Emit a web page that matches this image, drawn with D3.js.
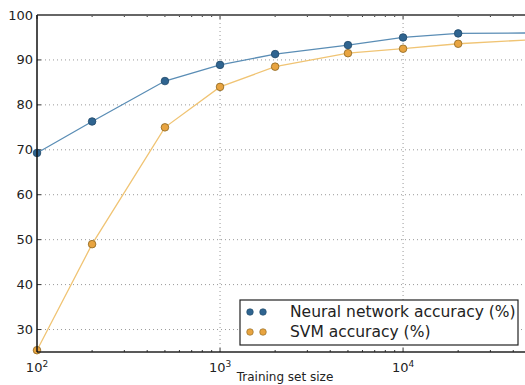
<!DOCTYPE html>
<html>
<head>
<meta charset="utf-8">
<script src="https://cdn.jsdelivr.net/npm/d3@7"></script>
<style>
  body { margin: 0; background: #fff; }
  svg { display: block; font-family: "DejaVu Sans", sans-serif; }
</style>
</head>
<body>
<div id="chart"></div>
<script>
// training set sizes and accuracies
const sizes = [100, 200, 500, 1000, 2000, 5000, 10000, 20000, 50000];
const nnAccuracy = [69.3, 76.3, 85.3, 88.9, 91.3, 93.3, 95.0, 95.9, 96.0];
const svmAccuracy = [25.4, 49.0, 75.0, 84.0, 88.5, 91.5, 92.5, 93.6, 94.5];
const yTicks = [30, 40, 50, 60, 70, 80, 90, 100];
const xMajor = [100, 1000, 10000];
const seriesNames = ["Neural network accuracy (%)", "SVM accuracy (%)"];

const width = 525, height = 385;
const margin = {top: 15, right: -6, bottom: 33, left: 37};

const svg = d3.select("#chart").append("svg")
    .attr("width", width)
    .attr("height", height);

const x = d3.scaleLog()
    .domain([100, 50000])
    .range([margin.left, width - margin.right]);

const y = d3.scaleLinear()
    .domain([25, 100])
    .range([height - margin.bottom, margin.top]);

const x0 = x.range()[0], x1 = x.range()[1];
const y0 = y.range()[0], y1 = y.range()[1];

// grid
const grid = svg.append("g")
    .attr("stroke", "#999")
    .attr("stroke-width", 1)
    .attr("stroke-dasharray", "1,3");
grid.selectAll(".gy")
    .data(yTicks.filter(d => d < 100))
    .enter().append("line")
    .attr("x1", x0).attr("x2", x1)
    .attr("y1", d => y(d)).attr("y2", d => y(d));
grid.selectAll(".gx")
    .data(xMajor.filter(d => d > 100))
    .enter().append("line")
    .attr("x1", d => x(d)).attr("x2", d => x(d))
    .attr("y1", y0).attr("y2", y1);

// minor x ticks (2..9 per decade)
let minor = [];
for (let dec = 100; dec < 50000; dec *= 10) {
    for (let m = 2; m <= 9; m++) {
        if (dec * m <= 50000) minor.push(dec * m);
    }
}

const ticks = svg.append("g").attr("stroke", "#333").attr("stroke-width", 1);
minor.forEach(v => {
    ticks.append("line").attr("x1", x(v)).attr("x2", x(v)).attr("y1", y0).attr("y2", y0 - 2);
    ticks.append("line").attr("x1", x(v)).attr("x2", x(v)).attr("y1", y1).attr("y2", y1 + 2);
});
xMajor.forEach(v => {
    ticks.append("line").attr("x1", x(v)).attr("x2", x(v)).attr("y1", y0).attr("y2", y0 - 4);
    ticks.append("line").attr("x1", x(v)).attr("x2", x(v)).attr("y1", y1).attr("y2", y1 + 4);
});
yTicks.forEach(v => {
    ticks.append("line").attr("x1", x0).attr("x2", x0 + 4).attr("y1", y(v)).attr("y2", y(v));
});

// lines
const line = d3.line()
    .x((d, i) => x(sizes[i]))
    .y(d => y(d));

svg.append("path")
    .datum(svmAccuracy)
    .attr("fill", "none")
    .attr("stroke", "#f0c474")
    .attr("stroke-width", 1.3)
    .attr("d", line);

svg.append("path")
    .datum(nnAccuracy)
    .attr("fill", "none")
    .attr("stroke", "#5a8db5")
    .attr("stroke-width", 1.3)
    .attr("d", line);

// markers
svg.selectAll(".svm")
    .data(svmAccuracy)
    .enter().append("circle")
    .attr("cx", (d, i) => x(sizes[i]))
    .attr("cy", d => y(d))
    .attr("r", 3.8)
    .attr("fill", "#e8a440")
    .attr("stroke", "#8a6420")
    .attr("stroke-width", 0.8);

svg.selectAll(".nn")
    .data(nnAccuracy)
    .enter().append("circle")
    .attr("cx", (d, i) => x(sizes[i]))
    .attr("cy", d => y(d))
    .attr("r", 3.8)
    .attr("fill", "#2f6490")
    .attr("stroke", "#1f4868")
    .attr("stroke-width", 0.8);

// spines
svg.append("line").attr("x1", x0).attr("x2", x1).attr("y1", y1).attr("y2", y1)
    .attr("stroke", "#666").attr("stroke-width", 2);
svg.append("line").attr("x1", x0).attr("x2", x1).attr("y1", y0).attr("y2", y0)
    .attr("stroke", "#222").attr("stroke-width", 1.5);
svg.append("line").attr("x1", x0).attr("x2", x0).attr("y1", y0).attr("y2", y1)
    .attr("stroke", "#111").attr("stroke-width", 1.5);

// tick labels
svg.selectAll(".ylab")
    .data(yTicks)
    .enter().append("text")
    .attr("x", x0 - 4)
    .attr("y", d => y(d))
    .attr("dy", "0.35em")
    .attr("text-anchor", "end")
    .attr("font-size", 13)
    .attr("fill", "#222")
    .text(d => d);

const xlab = svg.selectAll(".xlab")
    .data(xMajor)
    .enter().append("text")
    .attr("x", d => x(d))
    .attr("y", y0 + 20)
    .attr("text-anchor", "middle")
    .attr("font-size", 13)
    .attr("fill", "#222");
xlab.append("tspan").text("10");
xlab.append("tspan").attr("dy", -5).attr("font-size", 9).text(d => Math.round(Math.log10(d)));

svg.append("text")
    .attr("x", 285)
    .attr("y", 381)
    .attr("text-anchor", "middle")
    .attr("font-size", 12)
    .attr("fill", "#222")
    .text("Training set size");

// legend
const legend = svg.append("g");
legend.append("rect")
    .attr("x", 240).attr("y", 300)
    .attr("width", 278).attr("height", 45)
    .attr("fill", "#fff")
    .attr("stroke", "#222")
    .attr("stroke-width", 1.2);

const legColors = [["#2f6490", "#1f4868"], ["#e8a440", "#8a6420"]];
seriesNames.forEach((name, i) => {
    const cy = 312 + i * 20;
    [250, 263].forEach(cx => {
        legend.append("circle")
            .attr("cx", cx).attr("cy", cy).attr("r", 3.3)
            .attr("fill", legColors[i][0])
            .attr("stroke", legColors[i][1])
            .attr("stroke-width", 0.6);
    });
    legend.append("text")
        .attr("x", 290).attr("y", cy)
        .attr("dy", "0.35em")
        .attr("font-size", 15.5)
        .attr("fill", "#222")
        .text(name);
});
</script>
</body>
</html>
